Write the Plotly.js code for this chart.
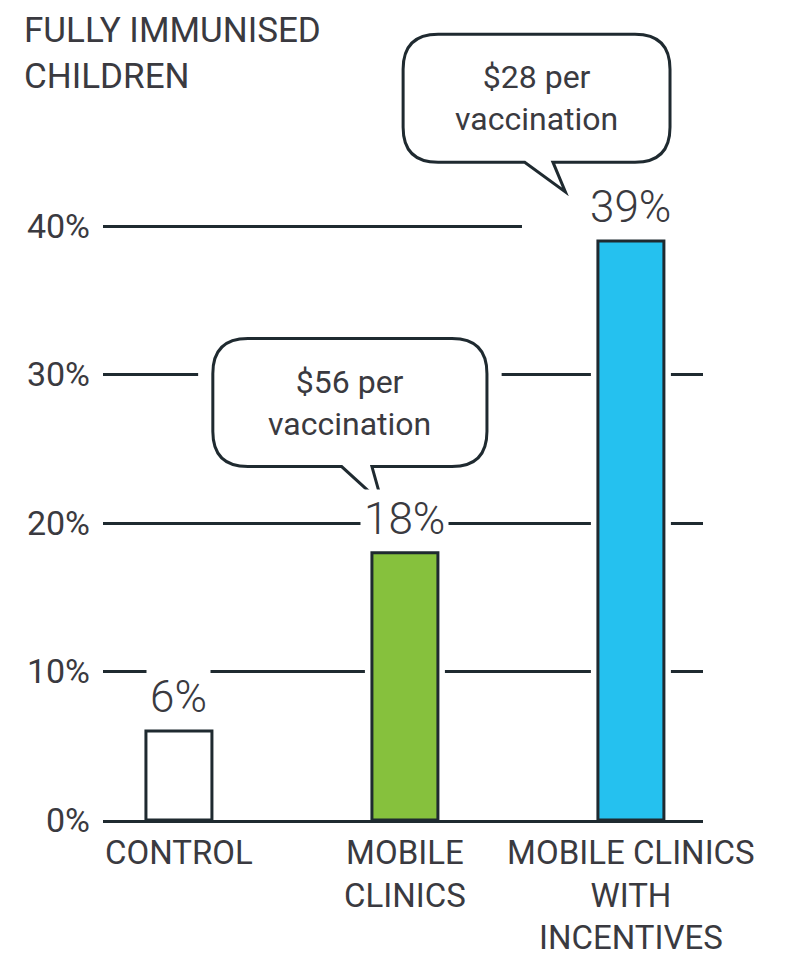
<!DOCTYPE html>
<html>
<head>
<meta charset="utf-8">
<script src="https://cdn.plot.ly/plotly-3.0.1.min.js"></script>
<style>html,body{margin:0;padding:0;background:#fff;}#chart{width:785px;height:956px;}</style>
</head>
<body>
<div id="chart"></div>
<script>
// ---- data ----
const categories = ['Control', 'Mobile clinics', 'Mobile clinics with incentives'];
const categoryLabels = ['CONTROL', 'MOBILE<br>CLINICS', 'MOBILE CLINICS<br>WITH<br>INCENTIVES'];
const immunisedPct = [6, 18, 39];
const yTickVals = [0, 10, 20, 30, 40];
const yTickText = ['0%', '10%', '20%', '30%', '40%'];
const costLabels = ['', '$56 per<br>vaccination', '$28 per<br>vaccination'];

// ---- style ----
const INK = '#1f2a30';
const TXT = '#3a3a40';
const FONT = 'Roboto, "Open Sans", sans-serif';
const barColors = ['#ffffff', '#86c13d', '#25c1ef'];
const BAR_W = 0.292;
const HALO_W = 0.354;

const traces = [
  { // white halo that breaks the gridlines around each bar
    type: 'bar', x: categories, y: immunisedPct, width: HALO_W,
    marker: { color: '#ffffff', line: { width: 0 } },
    hoverinfo: 'skip', showlegend: false
  },
  {
    type: 'bar', x: categories, y: immunisedPct, width: BAR_W,
    marker: { color: barColors, line: { color: INK, width: 3 } },
    hoverinfo: 'skip', showlegend: false
  }
];

// value labels above bars
const annotations = categories.map((c, i) => ({
  x: c, y: immunisedPct[i], xref: 'x', yref: 'y',
  text: immunisedPct[i] + '%', showarrow: false,
  yanchor: 'bottom', yshift: 4,
  font: { family: FONT, size: 44, color: TXT, weight: 300 },
  bgcolor: '#ffffff', borderpad: 3
}));

// chart title (top-left)
annotations.push({
  text: 'FULLY IMMUNISED<br>CHILDREN', showarrow: false,
  xref: 'paper', yref: 'paper', x: -81 / 600, y: 1 + 6 / 806,
  xanchor: 'left', yanchor: 'top', align: 'left',
  font: { family: FONT, size: 35, color: TXT }
});

// speech-bubble callouts (geometry in data units relative to bar index / value)
const calloutGeom = {
  1: { bx0: -0.85, bx1: 0.363, tdx: -0.10, bl: -0.28, br: -0.146, tail: 2.5 },
  2: { bx0: -1.008, bx1: 0.173, tdx: -0.29, bl: -0.47, br: -0.345, tail: 2.0 }
};
const BOX_H = 8.62, TIP_DY = 3.3, RX = 0.155, RY = 2.36;
const shapes = [];
Object.keys(calloutGeom).forEach(k => {
  const i = +k, v = immunisedPct[i], g = calloutGeom[k];
  const x0 = i + g.bx0, x1 = i + g.bx1;
  const tipY = v + TIP_DY, y0 = tipY + g.tail, y1 = y0 + BOX_H;
  const tipX = i + g.tdx, bL = i + g.bl, bR = i + g.br;
  shapes.push({ type: 'rect', layer: 'between', xref: 'x', yref: 'y',
    x0: x0 - 0.065, x1: x1 + 0.065, y0: y0 - 0.3, y1: y1 + 0.5,
    fillcolor: '#ffffff', line: { width: 0 } });
  const p = `M${x0 + RX},${y1} L${x1 - RX},${y1} Q${x1},${y1} ${x1},${y1 - RY} ` +
    `L${x1},${y0 + RY} Q${x1},${y0} ${x1 - RX},${y0} L${bR},${y0} L${tipX},${tipY} ` +
    `L${bL},${y0} L${x0 + RX},${y0} Q${x0},${y0} ${x0},${y0 + RY} L${x0},${y1 - RY} ` +
    `Q${x0},${y1} ${x0 + RX},${y1} Z`;
  shapes.push({ type: 'path', layer: 'above', xref: 'x', yref: 'y', path: p,
    fillcolor: '#ffffff', line: { color: INK, width: 3 } });
  annotations.push({ x: (x0 + x1) / 2, y: (y0 + y1) / 2, xref: 'x', yref: 'y',
    text: costLabels[i], showarrow: false, xanchor: 'center', yanchor: 'middle',
    font: { family: FONT, size: 32, color: TXT } });
});
// gap in the top gridline around the tallest bar's callout tail and label
shapes.push({ type: 'rect', layer: 'between', xref: 'x', yref: 'y',
  x0: 2 - 0.482, x1: 2.5, y0: 39.5, y1: 40.6,
  fillcolor: '#ffffff', line: { width: 0 } });

const layout = {
  width: 785, height: 956,
  margin: { l: 103, r: 82, t: 14, b: 136 },
  paper_bgcolor: '#ffffff', plot_bgcolor: '#ffffff',
  barmode: 'overlay', showlegend: false,
  xaxis: {
    type: 'category', categoryorder: 'array', categoryarray: categories,
    tickmode: 'array', tickvals: categories, ticktext: categoryLabels,
    range: [-0.336, 2.319],
    showgrid: false, zeroline: false,
    showline: true, linecolor: INK, linewidth: 3,
    ticks: '', ticklabelstandoff: 1,
    tickfont: { family: FONT, size: 33, color: TXT }
  },
  yaxis: {
    range: [0, 54.28],
    tickmode: 'array', tickvals: yTickVals, ticktext: yTickText,
    showgrid: true, gridcolor: INK, gridwidth: 3,
    zeroline: false, showline: false, ticks: '', ticklabelstandoff: 12,
    tickfont: { family: FONT, size: 34, color: TXT }
  },
  shapes: shapes,
  annotations: annotations
};

Plotly.newPlot('chart', traces, layout, { staticPlot: true, displayModeBar: false });
</script>
</body>
</html>
